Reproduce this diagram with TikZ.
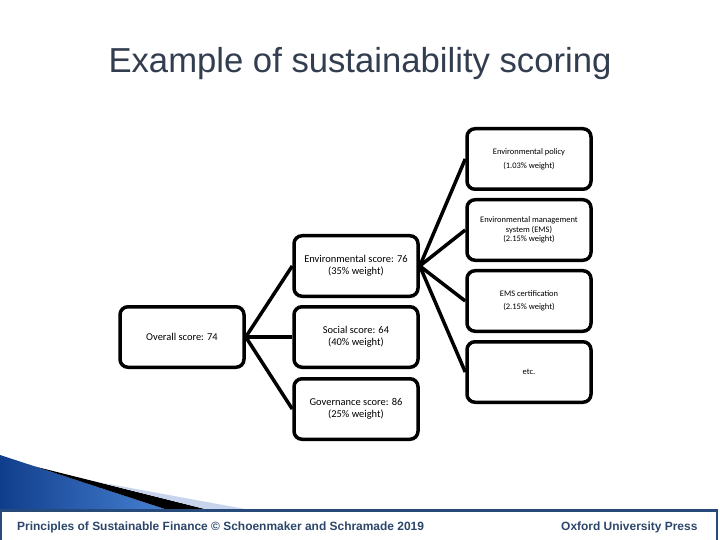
\documentclass[tikz,border=0pt]{standalone}
\usepackage{fontspec}
\setmainfont{Carlito}
\newfontfamily\arialfont{Liberation Sans}
\definecolor{titlecol}{RGB}{50,62,79}
\definecolor{footblue}{RGB}{38,74,122}
\definecolor{foottext}{RGB}{44,70,106}
\definecolor{darkblue}{RGB}{16,62,140}
\definecolor{midblue}{RGB}{70,128,210}
\definecolor{paleblue}{RGB}{200,212,238}
\begin{document}
\begin{tikzpicture}[x=1bp,y=-1bp,
  box/.style={draw=black, line width=3.5bp, rounded corners=8bp, fill=white,
    minimum width=124bp, minimum height=60.5bp, inner sep=0pt, align=center},
  smallbox/.style={box, font=\fontsize{8.5}{14}\selectfont},
  midbox/.style={box, font=\fontsize{10.5}{12}\selectfont},
  link/.style={line width=3.5bp, draw=black}]
\useasboundingbox (0,0) rectangle (720,540);
\fill[white] (0,0) rectangle (720,540);
% decoration bottom-left
\shade[left color=darkblue, right color=midblue] (0,455) -- (165,509) -- (0,509) -- cycle;
\fill[black] (35,466.5) -- (205,509) -- (165,509) -- cycle;
\fill[paleblue] (100,482.4) -- (245,509) -- (205,509) -- cycle;
% footer frame
\draw[footblue, line width=2.5bp] (1,541) -- (1,510.5) -- (717,510.5) -- (717,541);
% title
\node[font=\arialfont\fontsize{34.8}{40}\selectfont, text=titlecol, anchor=base, inner sep=0pt] (title) at (360,73) {Example of sustainability scoring};
% footer texts
\node[font=\arialfont\bfseries\fontsize{12}{14}\selectfont, text=foottext, anchor=base west, inner sep=0pt] (foot1) at (17,530.3) {Principles of Sustainable Finance © Schoenmaker and Schramade 2019};
\node[font=\arialfont\bfseries\fontsize{12}{14}\selectfont, text=foottext, anchor=base west, inner sep=0pt] (foot2) at (561,530.3) {Oxford University Press};
% boxes
\node[midbox] (ov) at (182,337) {Overall score: 74};
\node[midbox] (env) at (356,266) {Environmental score: 76\\(35\% weight)};
\node[midbox] (soc) at (356,337) {Social score: 64\\(40\% weight)};
\node[midbox] (gov) at (356,409) {Governance score: 86\\(25\% weight)};
\node[smallbox] (pol) at (529,159) {Environmental policy\\(1.03\% weight)};
\node[smallbox, font=\fontsize{8.5}{9.5}\selectfont] (ems) at (529,230) {Environmental management\\system (EMS)\\(2.15\% weight)};
\node[smallbox, font=\fontsize{8.5}{13}\selectfont] (cert) at (529,301) {EMS certification\\(2.15\% weight)};
\node[smallbox] (etc) at (529,372) {etc.};
% connectors
\draw[link] (ov.east) -- (env.west);
\draw[link] (ov.east) -- (soc.west);
\draw[link] (ov.east) -- (gov.west);
\draw[link] (env.east) -- (pol.west);
\draw[link] (env.east) -- (ems.west);
\draw[link] (env.east) -- (cert.west);
\draw[link] (env.east) -- (etc.west);
\end{tikzpicture}
\end{document}
